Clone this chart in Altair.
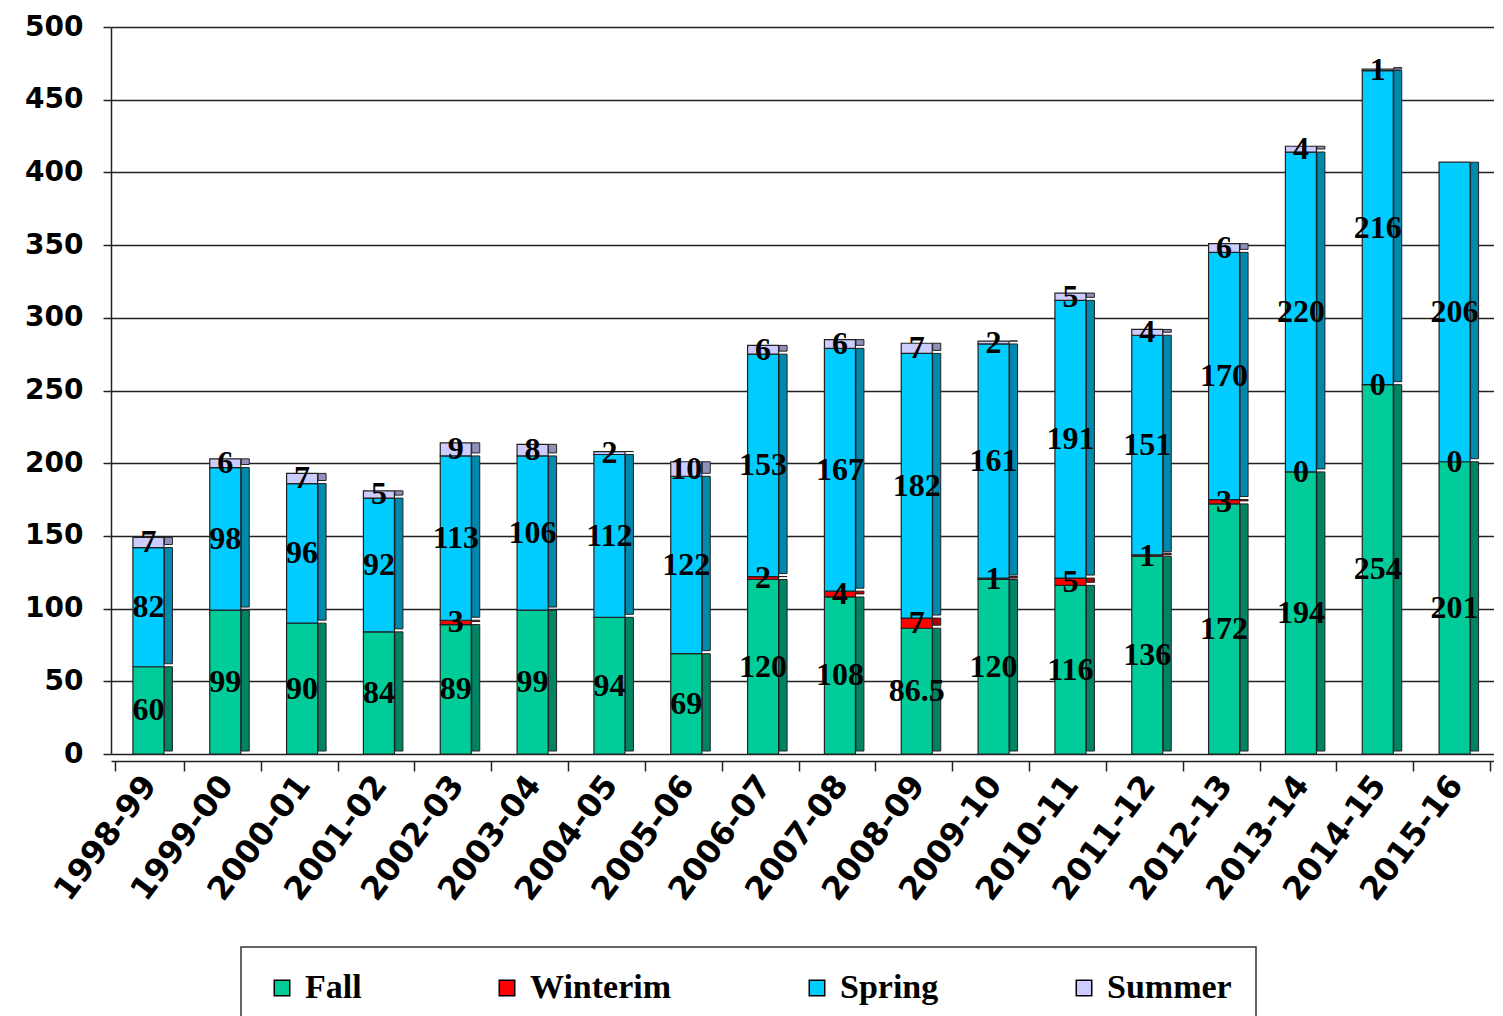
import altair as alt
import pandas as pd

years = ["1998-99", "1999-00", "2000-01", "2001-02", "2002-03", "2003-04",
         "2004-05", "2005-06", "2006-07", "2007-08", "2008-09", "2009-10",
         "2010-11", "2011-12", "2012-13", "2013-14", "2014-15", "2015-16"]
fall = [60, 99, 90, 84, 89, 99, 94, 69, 120, 108, 86.5, 120, 116, 136, 172, 194, 254, 201]
winterim = [None, None, None, None, 3, None, None, None, 2, 4, 7, 1, 5, 1, 3, 0, 0, 0]
spring = [82, 98, 96, 92, 113, 106, 112, 122, 153, 167, 182, 161, 191, 151, 170, 220, 216, 206]
summer = [7, 6, 7, 5, 9, 8, 2, 10, 6, 6, 7, 2, 5, 4, 6, 4, 1, None]

seasons = ["Fall", "Winterim", "Spring", "Summer"]
front_colors = ["#00CC99", "#FF0000", "#00CCFF", "#CCCCFF"]
side_colors = ["#008463", "#B00000", "#0089AD", "#9090B8"]

rows = []
for i, y in enumerate(years):
    for k, (s, arr) in enumerate(zip(seasons, [fall, winterim, spring, summer])):
        v = arr[i]
        if v is None:
            continue
        lab = str(v) if isinstance(v, float) and not float(v).is_integer() else str(int(v))
        rows.append({"year": y, "season": s, "value": v, "order": k, "label": lab})
df = pd.DataFrame(rows)

base = alt.Chart(df).transform_stack(
    stack="value", groupby=["year"],
    sort=[alt.SortField("order", order="ascending")],
    as_=["y0", "y1"]
).transform_calculate(mid="(datum.y0 + datum.y1) / 2")

bars_base = base.transform_filter("datum.value > 0")

xenc = alt.X("year:N", sort=years, title=None,
             axis=alt.Axis(labelAngle=-53, labelAlign="right", labelBaseline="middle",
                           labelFont="DejaVu Sans", labelFontWeight="bold", labelFontSize=32,
                           labelColor="black", tickBand="extent", tickSize=10,
                           tickColor="#222", tickWidth=1.5, domainColor="#222",
                           domainWidth=1.5, offset=7, labelPadding=8, grid=False))
yenc = alt.Y("y0:Q", title=None,
             scale=alt.Scale(domain=[0, 500], nice=False),
             axis=alt.Axis(values=list(range(0, 501, 50)), labelFont="DejaVu Sans",
                           labelFontWeight="bold", labelFontSize=28, labelColor="black",
                           grid=True, gridColor="#222", gridWidth=1.6,
                           domainColor="#222", domainWidth=1.5, tickColor="#222",
                           tickWidth=1.5, tickSize=8, labelPadding=20))

side = bars_base.mark_bar(size=8, xOffset=19, yOffset=-3, stroke="#222", strokeWidth=1).encode(
    x=xenc, y=yenc, y2="y1:Q",
    color=alt.Color("season:N", scale=alt.Scale(domain=seasons, range=side_colors), legend=None),
)

front = bars_base.mark_bar(size=31, xOffset=-1, stroke="#222", strokeWidth=1.2).encode(
    x=xenc, y=yenc, y2="y1:Q",
    color=alt.Color("season:N", scale=alt.Scale(domain=seasons, range=front_colors),
                    legend=alt.Legend(title=None, orient="none", legendX=130, legendY=920,
                                      direction="horizontal")),
)

labels = base.mark_text(font="Liberation Serif", fontWeight="bold", fontSize=32,
                        color="black", xOffset=-1).encode(
    x=alt.X("year:N", sort=years),
    y=alt.Y("mid:Q"),
    text="label:N",
)

chart = alt.layer(side, front, labels).resolve_scale(color="independent").properties(
    width=1383, height=727,
    padding={"left": 16, "top": 5, "right": 0, "bottom": 0},
).configure_view(stroke=None).configure_legend(
    strokeColor="#333", strokeWidth=1.5, padding=24, columnPadding=128,
    labelFont="Liberation Serif", labelFontWeight="bold", labelFontSize=34,
    labelColor="black", symbolType="square", symbolSize=240,
    symbolStrokeColor="black", symbolStrokeWidth=1.5, labelOffset=6,
)

chart.save("out.html", embed_options={"renderer": "svg", "actions": False})
